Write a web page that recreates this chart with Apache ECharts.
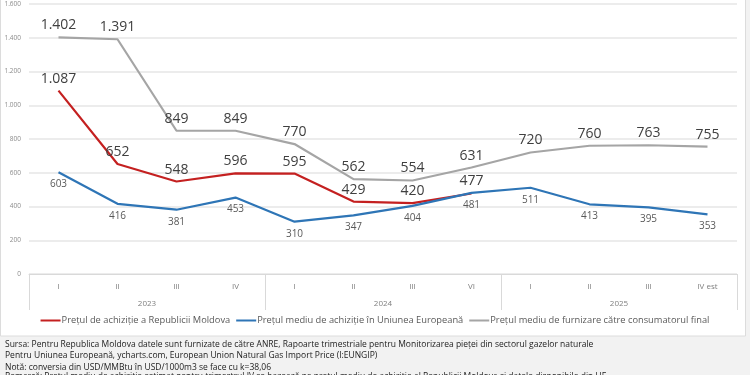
<!DOCTYPE html>
<html>
<head>
<meta charset="utf-8">
<script src="https://cdn.jsdelivr.net/npm/echarts@6/dist/echarts.min.js"></script>
<style>
  html, body { margin: 0; padding: 0; background: #f2f2f2; }
  #main { width: 750px; height: 375px; }
</style>
</head>
<body>
<div id="main"></div>
<script>
// trimestre si ani
var quarters = ['I', 'II', 'III', 'IV', 'I', 'II', 'III', 'VI', 'I', 'II', 'III', 'IV est'];
var years = ['2023', '2024', '2025'];
// preturi USD/1000m3
var moldova = [1087, 652, 548, 596, 595, 429, 420, 477, null, null, null, null];
var uniuneaEuropeana = [603, 416, 381, 453, 310, 347, 404, 481, 511, 413, 395, 353];
var consumatorFinal = [1402, 1391, 849, 849, 770, 562, 554, 631, 720, 760, 763, 755];

var sourceLines = [
    'Sursa: Pentru Republica Moldova datele sunt furnizate de către ANRE, Rapoarte trimestriale pentru Monitorizarea pieței din sectorul gazelor naturale',
    'Pentru Uniunea Europeană, ycharts.com, European Union Natural Gas Import Price (I:EUNGIP)',
    'Notă: conversia din USD/MMBtu în USD/1000m3 se face cu k=38,06',
    'Remarcă: Prețul mediu de achiziție estimat pentru trimestrul IV se bazează pe prețul mediu de achiziție al Republicii Moldova și datele disponibile din UE'
];

//format cu punct la mii
function fmt (v) {
    return String(v).replace(/\B(?=(\d{3})+(?!\d))/g, '.');
}

var font = '"Open Sans", "Noto Sans", sans-serif';
var chart = echarts.init(document.getElementById('main'));

var graphics = [{
    type: 'rect',
    shape: { x: 0.5, y: -2, width: 745, height: 338 },
    style: { fill: '#fff', stroke: '#dcdcdc', lineWidth: 1 },
    z: -10
}];
var tops = [340, 351.5, 363, 372.5];
for (var i = 0; i < sourceLines.length; i++) {
    graphics.push({
        type: 'text',
        left: 5,
        top: tops[i],
        style: { text: sourceLines[i], fill: '#222', font: '8.5px ' + font }
    });
}

var option = {
    animation: false,
    textStyle: { fontFamily: font },
    graphic: graphics,
    grid: { left: 29, right: 13, top: 4, bottom: 101 },
    legend: {
        bottom: 45,
        left: 'center',
        width: 740,
        icon: 'rect',
        itemWidth: 20,
        itemHeight: 2,
        itemGap: 6,
        textStyle: { fontSize: 9.3, color: '#595959', padding: [0, 0, 0, -4] },
        data: ['Prețul de achiziție a Republicii Moldova', 'Prețul mediu de achiziție în Uniunea Europeană', 'Prețul mediu de furnizare către consumatorul final']
    },
    xAxis: [{
        type: 'category',
        data: quarters,
        position: 'bottom',
        axisLine: { lineStyle: { color: '#d9d9d9' } },
        axisTick: { show: false },
        axisLabel: { fontSize: 8, color: '#7f7f7f', margin: 9 }
    }, {
        type: 'category',
        data: years,
        position: 'bottom',
        axisLine: { show: false },
        axisTick: { show: true, length: 36, lineStyle: { color: '#d9d9d9' } },
        axisLabel: { fontSize: 8, color: '#7f7f7f', margin: 26 }
    }],
    yAxis: {
        type: 'value',
        min: 0,
        max: 1600,
        interval: 200,
        axisLine: { show: false },
        axisTick: { show: false },
        splitLine: { lineStyle: { color: '#e6e6e6', width: 1.5 } },
        axisLabel: { fontSize: 6.5, color: '#8c8c8c', margin: 8, formatter: function (v) { return fmt(v); } }
    },
    series: [{
        name: 'Prețul de achiziție a Republicii Moldova',
        type: 'line',
        data: moldova,
        showSymbol: true,
        symbolSize: 0,
        color: '#c42020',
        lineStyle: { width: 2.2 },
        label: { show: true, position: 'top', distance: 5, fontSize: 14, color: '#404040', formatter: function (p) { return fmt(p.value); } },
        z: 3
    }, {
        name: 'Prețul mediu de achiziție în Uniunea Europeană',
        type: 'line',
        data: uniuneaEuropeana,
        showSymbol: true,
        symbolSize: 0,
        color: '#2e75b6',
        lineStyle: { width: 2.2 },
        label: { show: true, position: 'bottom', distance: 7, fontSize: 10, color: '#595959' },
        z: 4
    }, {
        name: 'Prețul mediu de furnizare către consumatorul final',
        type: 'line',
        data: consumatorFinal,
        showSymbol: true,
        symbolSize: 0,
        color: '#a5a5a5',
        lineStyle: { width: 2.2 },
        label: { show: true, position: 'top', distance: 5, fontSize: 14, color: '#404040', formatter: function (p) { return fmt(p.value); } },
        z: 2
    }]
};
chart.setOption(option);
</script>
</body>
</html>
